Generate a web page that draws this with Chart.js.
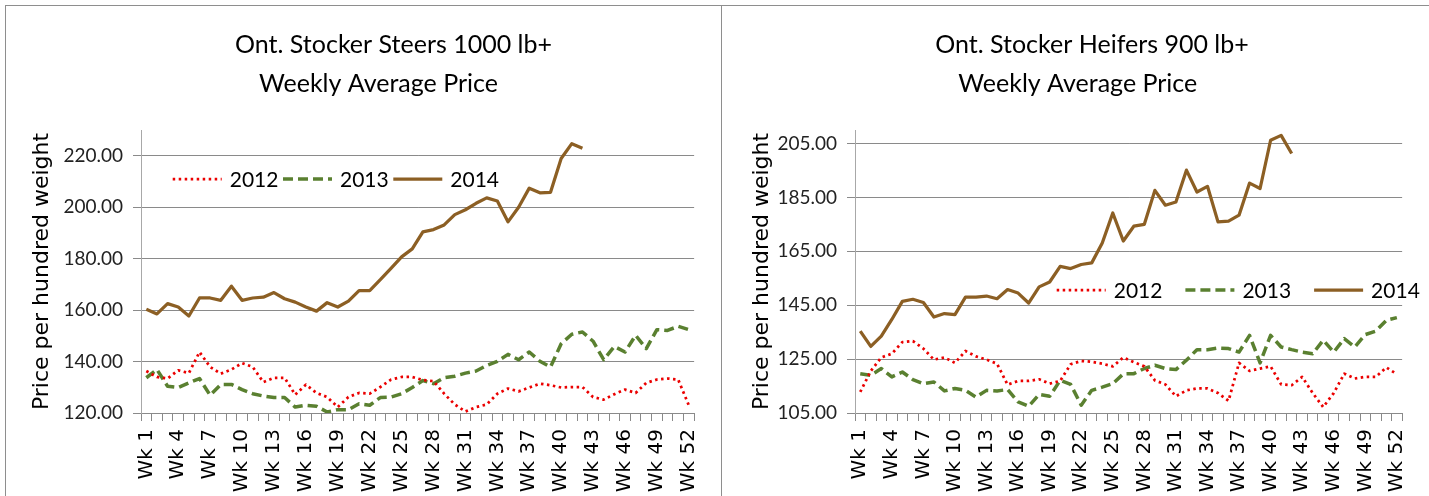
<!DOCTYPE html>
<html>
<head>
<meta charset="utf-8">
<title>Ont. Stocker Weekly Average Price</title>
<script src="https://cdn.jsdelivr.net/npm/chart.js@4.4.1/dist/chart.umd.min.js"></script>
<style>
  body{ margin:0; background:#fff; }
  #lienzo{ position:relative; width:1429px; height:496px; overflow:hidden; background:#fff; }
  .panel{ position:absolute; top:5px; height:491px; box-sizing:border-box;
          border-top:1px solid #8e8e8e; border-left:1px solid #8e8e8e; }
  #panelNovillos{ left:5px; width:716px; }
  #panelVaquillas{ left:721px; width:708px; }
  .panel canvas{ position:absolute; left:0; top:0; }
</style>
</head>
<body>
<div id="lienzo">
  <div class="panel" id="panelNovillos"><canvas id="graficoNovillos" width="715" height="490"></canvas></div>
  <div class="panel" id="panelVaquillas"><canvas id="graficoVaquillas" width="707" height="490"></canvas></div>
</div>
<script>
// ===================================
// DATOS
// ===================================
const semanas = ['Wk 1','Wk 2','Wk 3','Wk 4','Wk 5','Wk 6','Wk 7','Wk 8','Wk 9','Wk 10',
  'Wk 11','Wk 12','Wk 13','Wk 14','Wk 15','Wk 16','Wk 17','Wk 18','Wk 19','Wk 20',
  'Wk 21','Wk 22','Wk 23','Wk 24','Wk 25','Wk 26','Wk 27','Wk 28','Wk 29','Wk 30',
  'Wk 31','Wk 32','Wk 33','Wk 34','Wk 35','Wk 36','Wk 37','Wk 38','Wk 39','Wk 40',
  'Wk 41','Wk 42','Wk 43','Wk 44','Wk 45','Wk 46','Wk 47','Wk 48','Wk 49','Wk 50',
  'Wk 51','Wk 52'];
const anios = ['2012', '2013', '2014'];

// Novillos (Steers 1000 lb+)
const novillos2012 = [136.3,134.0,133.4,136.6,135.5,143.7,137.9,135.3,136.9,139.4,
  137.9,132.0,133.7,133.7,127.1,131.0,127.8,126.2,122.3,126.2,
  127.8,127.5,130.1,133.0,134.0,134.0,132.8,132.4,127.5,123.3,
  120.6,122.3,123.3,127.5,129.5,128.4,129.9,131.4,130.8,129.9,
  130.1,130.1,126.2,125.2,127.3,129.1,127.8,131.7,133.0,133.4,
  133.0,123.0];
const novillos2013 = [133.7,136.9,130.4,129.9,131.7,133.4,126.9,131.1,131.1,129.1,
  127.5,126.6,126.0,126.0,122.3,123.0,122.6,120.4,121.3,121.3,
  123.6,123.0,126.0,126.2,127.5,129.9,132.6,131.4,133.7,134.3,
  135.5,136.3,138.5,140.1,142.8,140.7,143.7,140.1,137.9,146.9,
  150.6,151.5,147.9,140.7,145.9,143.7,150.2,145.0,152.4,152.1,
  153.7,152.4];
const novillos2014 = [160.3,158.5,162.5,161.2,157.7,164.7,164.7,163.8,169.3,163.8,
  164.7,165.0,166.8,164.4,163.1,161.2,159.6,162.9,161.2,163.5,
  167.6,167.6,171.8,176.2,180.7,183.8,190.4,191.3,193.1,197.1,
  199.0,201.5,203.6,202.4,194.3,200.0,207.4,205.6,205.8,218.9,
  224.7,222.9];
const ticksNovillos = [120, 140, 160, 180, 200, 220];

// Vaquillas (Heifers 900 lb+)
const vaquillas2012 = [112.8,120.6,125.6,127.0,131.3,131.7,128.9,124.8,125.6,123.6,
  128.0,126.0,124.8,123.3,115.5,116.9,116.9,117.5,115.9,116.9,
  123.1,124.3,124.0,123.3,122.3,125.6,123.9,122.3,117.1,115.6,
  111.2,113.4,114.1,114.1,112.4,109.5,123.6,120.6,121.5,122.3,
  115.6,115.3,118.4,112.4,107.2,112.4,119.6,117.8,118.4,118.4,
  121.9,119.4];
const vaquillas2013 = [119.6,119.0,121.5,118.4,120.2,117.4,115.9,116.5,113.2,114.1,
  113.4,110.9,113.4,113.2,113.7,109.1,107.5,111.9,111.2,117.1,
  115.6,107.9,113.4,114.6,115.9,119.5,119.6,121.5,122.7,121.5,
  121.1,124.6,128.5,128.5,129.1,128.9,127.6,133.8,123.6,133.8,
  129.5,128.5,127.6,127.0,132.0,127.6,132.6,129.5,134.1,135.4,
  139.4,140.4];
const vaquillas2014 = [135.4,129.7,133.5,139.7,146.4,147.2,146.0,140.6,141.9,141.5,
  148.0,148.0,148.4,147.4,150.8,149.5,145.8,151.8,153.6,159.4,
  158.6,160.1,160.7,168.1,179.2,168.8,174.3,175.0,187.6,182.1,
  183.3,195.1,187.0,189.1,175.9,176.2,178.4,190.3,188.3,206.2,
  208.0,201.3];
const ticksVaquillas = [105, 125, 145, 165, 185, 205];

const titulosNovillos = ['Ont. Stocker Steers 1000 lb+', 'Weekly Average Price'];
const titulosVaquillas = ['Ont. Stocker Heifers 900 lb+', 'Weekly Average Price'];
const tituloEjeY = 'Price per hundred weight';

// ===================================
// ESTILOS
// ===================================
const estilosSeries = [
  { color: 'rgb(235,0,0)', ancho: 2.75, guion: [2.5, 3.5] },
  { color: '#5a8030',      ancho: 3.5,  guion: [10, 5] },
  { color: '#8c5f24',      ancho: 3.25, guion: [] }
];
const colorRejilla = '#8a8a8a';

// Título y leyenda dibujados dentro del área, como en Excel
const pluginTextos = {
  id: 'textosExcel',
  afterDraw(chart, args, op){
    const ctx = chart.ctx;
    ctx.save();
    ctx.fillStyle = '#000';
    ctx.font = op.fuenteTitulo;
    ctx.textAlign = 'center';
    ctx.textBaseline = 'alphabetic';
    op.titulo.forEach((linea, i) => ctx.fillText(linea, op.tituloX[i], op.tituloY[i]));

    // leyenda
    const ley = op.leyenda;
    ctx.font = op.fuenteLeyenda;
    ctx.textAlign = 'left';
    ctx.textBaseline = 'middle';
    chart.data.datasets.forEach((ds, i) => {
      const x0 = ley.x + i * ley.paso;
      ctx.beginPath();
      ctx.strokeStyle = ds.borderColor;
      ctx.lineWidth = ds.borderWidth;
      ctx.setLineDash(ds.borderDash || []);
      ctx.lineCap = 'butt';
      ctx.moveTo(x0, ley.y);
      ctx.lineTo(x0 + ley.largo, ley.y);
      ctx.stroke();
      ctx.setLineDash([]);
      ctx.fillStyle = '#000';
      ctx.fillText(ds.label, x0 + ley.texto, ley.y + 1);
    });
    ctx.restore();
  }
};

function crearGrafico(idCanvas, series, marcas, rango, titulos, disp){
  const canvas = document.getElementById(idCanvas);
  if(!canvas || !window.Chart) return;
  return new Chart(canvas.getContext('2d'), {
    type: 'line',
    data: {
      labels: semanas,
      datasets: series.map((valores, i) => ({
        label: anios[i],
        data: valores,
        borderColor: estilosSeries[i].color,
        borderWidth: estilosSeries[i].ancho,
        borderDash: estilosSeries[i].guion,
        borderJoinStyle: 'round',
        pointRadius: 0,
        tension: 0,
        fill: false
      }))
    },
    options: {
      responsive: false,
      animation: false,
      layout: { padding: { top: 124, right: disp.derecha, bottom: 0, left: 0 } },
      plugins: {
        legend: { display: false },
        title: { display: false },
        tooltip: { enabled: false },
        textosExcel: {
          titulo: titulos,
          tituloX: disp.tituloX,
          tituloY: [47, 86],
          fuenteTitulo: '25px Lato',
          fuenteLeyenda: '21px Lato',
          leyenda: disp.leyenda
        }
      },
      scales: {
        x: {
          type: 'category',
          offset: true,
          afterFit: (escala) => { escala.height = 83; },
          grid: { drawOnChartArea: false, drawTicks: true, tickLength: 8, offset: true, color: colorRejilla },
          border: { color: colorRejilla },
          ticks: {
            autoSkip: false,
            maxRotation: 90,
            minRotation: 90,
            padding: 8,
            color: '#000',
            font: { family: 'DejaVu Sans', size: 20 },
            callback: function(valor, indice){ return indice % 3 === 0 ? this.getLabelForValue(valor) : ''; }
          }
        },
        y: {
          min: rango[0],
          max: rango[1],
          afterFit: (escala) => { escala.width = disp.anchoY; },
          afterBuildTicks: (escala) => { escala.ticks = marcas.map(v => ({ value: v })); },
          grid: { color: colorRejilla, tickLength: 8, drawTicks: true },
          border: { color: '#a8a8a8' },
          ticks: {
            padding: 10,
            color: '#222',
            font: { family: 'Lato', size: 19 },
            callback: (v) => Number(v).toFixed(2)
          },
          title: {
            display: true,
            text: tituloEjeY,
            color: '#000',
            font: { family: 'DejaVu Sans', size: 22 },
            padding: { top: disp.tituloEjePad, bottom: 0 }
          }
        }
      }
    },
    plugins: [pluginTextos]
  });
}

// ===================================
// EJECUTAR
// ===================================
crearGrafico('graficoNovillos',
  [novillos2012, novillos2013, novillos2014], ticksNovillos, [120, 230], titulosNovillos,
  { derecha: 20, anchoY: 135, tituloEjePad: 23, tituloX: [387.5, 372.5],
    leyenda: { x: 166.7, y: 173, paso: 110.3, largo: 49, texto: 57 } });

crearGrafico('graficoVaquillas',
  [vaquillas2012, vaquillas2013, vaquillas2014], ticksVaquillas, [105, 210], titulosVaquillas,
  { derecha: 14, anchoY: 133, tituloEjePad: 27, tituloX: [370, 355.8],
    leyenda: { x: 334.7, y: 284, paso: 128.7, largo: 49, texto: 57 } });
</script>
</body>
</html>
